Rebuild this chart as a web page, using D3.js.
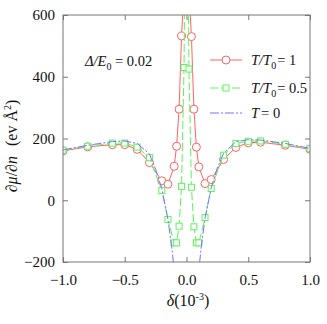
<!DOCTYPE html>
<html>
<head>
<meta charset="utf-8">
<script src="https://cdn.jsdelivr.net/npm/d3@7"></script>
<style>
  body { margin: 0; background: #fff; }
</style>
</head>
<body>
<div id="chart-area"></div>
<script>
// T/T0 = 1 (red circles)
const redDelta = [-1, -0.8, -0.6, -0.5, -0.4, -0.3, -0.2, -0.15, -0.1, -0.08, -0.06, -0.04, -0.02,
                  0.02, 0.04, 0.06, 0.08, 0.1, 0.15, 0.2, 0.3, 0.4, 0.5, 0.6, 0.8, 1]
const redValue = [160, 173, 180, 180, 165, 122, 63, 52, 110, 175, 295, 532, 680,
                  680, 530, 295, 172, 108, 54, 67, 132, 171, 186, 188, 178, 165]

// T/T0 = 0.5 (green squares)
const greenDelta = [-1, -0.8, -0.6, -0.5, -0.4, -0.3, -0.2, -0.15, -0.1, -0.08, -0.06, -0.04, -0.02, 0,
                    0.02, 0.04, 0.06, 0.08, 0.1, 0.15, 0.2, 0.3, 0.4, 0.5, 0.6, 0.8, 1]
const greenValue = [162, 175, 185, 185, 172, 138, 31, -62, -138, -138, -84, 45, 430, 1500,
                    425, 42, -86, -138, -138, -56, 38, 146, 184, 191, 192, 181, 167]

// T = 0 (blue dash-dot)
const blueDelta = [-1, -0.8, -0.6, -0.5, -0.4, -0.3, -0.25, -0.2, -0.15, -0.12, -0.1, -0.09,
                   0.09, 0.1, 0.12, 0.15, 0.2, 0.25, 0.3, 0.4, 0.5, 0.6, 0.8, 1]
const blueValue = [163, 178, 190, 192, 184, 150, 100, 38, -62, -150, -225, -300,
                   -300, -225, -150, -58, 40, 105, 152, 190, 196, 195, 184, 168]

const xTicks = [-1.0, -0.5, 0.0, 0.5, 1.0]
const yTicks = [-200, 0, 200, 400, 600]

const serif = "Liberation Serif"

const svgWidth = 327
const svgHeight = 324
const margin = { left: 63, right: 17, top: 15, bottom: 62 }
const chartWidth = svgWidth - margin.left - margin.right
const chartHeight = svgHeight - margin.top - margin.bottom

const svg = d3.select("#chart-area")
  .append("svg")
  .attr("width", svgWidth)
  .attr("height", svgHeight)
  .attr("font-family", serif)

const chart = svg.append("g")
  .attr("transform", `translate(${margin.left},${margin.top})`)

const xScale = d3.scaleLinear().domain([-1, 1]).range([0, chartWidth])
const yScale = d3.scaleLinear().domain([-200, 600]).range([chartHeight, 0])

chart.append("clipPath").attr("id", "clip")
  .append("rect").attr("width", chartWidth).attr("height", chartHeight)

const plot = chart.append("g").attr("clip-path", "url(#clip)")

const series = [
  { name: "red", xs: redDelta, ys: redValue, color: "#ff6464", dash: null, marker: "circle" },
  { name: "green", xs: greenDelta, ys: greenValue, color: "#5cf55c", dash: "8,3", marker: "square" },
  { name: "blue", xs: blueDelta, ys: blueValue, color: "#7474ff", dash: "9,2,2,2", marker: null }
]

const line = d3.line()
  .x(d => xScale(d[0]))
  .y(d => yScale(d[1]))

series.forEach(s => {
  const pts = s.xs.map((x, i) => [x, s.ys[i]])
  plot.append("path")
    .attr("d", line(pts))
    .attr("fill", "none")
    .attr("stroke", s.color)
    .attr("stroke-width", 1)
    .attr("stroke-dasharray", s.dash)

  if (s.marker === "circle") {
    plot.selectAll(null).data(pts).join("circle")
      .attr("cx", d => xScale(d[0]))
      .attr("cy", d => yScale(d[1]))
      .attr("r", 4)
      .attr("fill", "#fff")
      .attr("stroke", s.color)
  } else if (s.marker === "square") {
    plot.selectAll(null).data(pts).join("rect")
      .attr("x", d => xScale(d[0]) - 3)
      .attr("y", d => yScale(d[1]) - 3)
      .attr("width", 6)
      .attr("height", 6)
      .attr("fill", "#fff")
      .attr("stroke", s.color)
  }
})

// frame and inward ticks
const axisColor = "#777"
chart.append("rect")
  .attr("width", chartWidth).attr("height", chartHeight)
  .attr("fill", "none").attr("stroke", axisColor)

const xAxis = chart.append("g")
  .attr("transform", `translate(0,${chartHeight})`)
  .call(d3.axisBottom(xScale).tickValues(xTicks).tickSize(-5).tickPadding(12).tickFormat(d3.format(".1f")))
const xTop = chart.append("g")
  .call(d3.axisTop(xScale).tickValues(xTicks).tickSize(-5).tickFormat(""))
const yAxis = chart.append("g")
  .call(d3.axisLeft(yScale).tickValues(yTicks).tickSize(-5).tickPadding(8))
const yRight = chart.append("g")
  .attr("transform", `translate(${chartWidth},0)`)
  .call(d3.axisRight(yScale).tickValues(yTicks).tickSize(-5).tickFormat(""))

;[xAxis, xTop, yAxis, yRight].forEach(g => {
  g.attr("font-family", serif).attr("font-size", 15)
  g.select(".domain").remove()
  g.selectAll("line").attr("stroke", axisColor)
  g.selectAll("text").attr("fill", "#111")
})

// x label
svg.append("text")
  .attr("x", 188).attr("y", 306)
  .attr("text-anchor", "middle")
  .attr("font-size", 16)
  .attr("fill", "#111")
  .call(t => {
    t.append("tspan").attr("font-style", "italic").text("δ")
    t.append("tspan").text("(10")
    t.append("tspan").attr("dy", -6).attr("font-size", 10).text("-3")
    t.append("tspan").attr("dy", 6).text(")")
  })

// y label
svg.append("text")
  .attr("transform", "translate(17,146) rotate(-90)")
  .attr("text-anchor", "middle")
  .attr("font-size", 16)
  .attr("fill", "#111")
  .call(t => {
    t.append("tspan").text("∂")
    t.append("tspan").attr("font-style", "italic").text("μ")
    t.append("tspan").text("/∂")
    t.append("tspan").attr("font-style", "italic").text("n")
    t.append("tspan").attr("dx", 10).text("(ev Å")
    t.append("tspan").attr("dy", -6).attr("font-size", 10).text("2")
    t.append("tspan").attr("dy", 6).text(")")
  })

// annotation
svg.append("text")
  .attr("x", 85).attr("y", 66)
  .attr("font-size", 14.5)
  .attr("fill", "#111")
  .call(t => {
    t.append("tspan").attr("font-style", "italic").text("Δ/E")
    t.append("tspan").attr("dy", 4).attr("font-size", 10).text("0")
    t.append("tspan").attr("dy", -4).text(" = 0.02")
  })

// legend
const legendItems = [
  { s: series[0], y: 60, label: ["T/T", "0", "= 1"] },
  { s: series[1], y: 88, label: ["T/T", "0", "= 0.5"] },
  { s: series[2], y: 113, label: ["T", "", "= 0"] }
]
const legend = svg.append("g")
legendItems.forEach(it => {
  legend.append("line")
    .attr("x1", 210).attr("x2", 242)
    .attr("y1", it.y).attr("y2", it.y)
    .attr("stroke", it.s.color)
    .attr("stroke-dasharray", it.s.dash)
  if (it.s.marker === "circle") {
    legend.append("circle").attr("cx", 226).attr("cy", it.y).attr("r", 4)
      .attr("fill", "#fff").attr("stroke", it.s.color)
  } else if (it.s.marker === "square") {
    legend.append("rect").attr("x", 223).attr("y", it.y - 3).attr("width", 6).attr("height", 6)
      .attr("fill", "#fff").attr("stroke", it.s.color)
  }
  legend.append("text")
    .attr("x", 251).attr("y", it.y + 5)
    .attr("font-size", 14.5)
    .attr("fill", "#111")
    .call(t => {
      t.append("tspan").attr("font-style", "italic").text(it.label[0])
      if (it.label[1]) {
        t.append("tspan").attr("dy", 4).attr("font-size", 10).text(it.label[1])
        t.append("tspan").attr("dy", -4).attr("dx", 1).text(it.label[2])
      } else {
        t.append("tspan").attr("dx", 2).text(it.label[2])
      }
    })
})
</script>
</body>
</html>
